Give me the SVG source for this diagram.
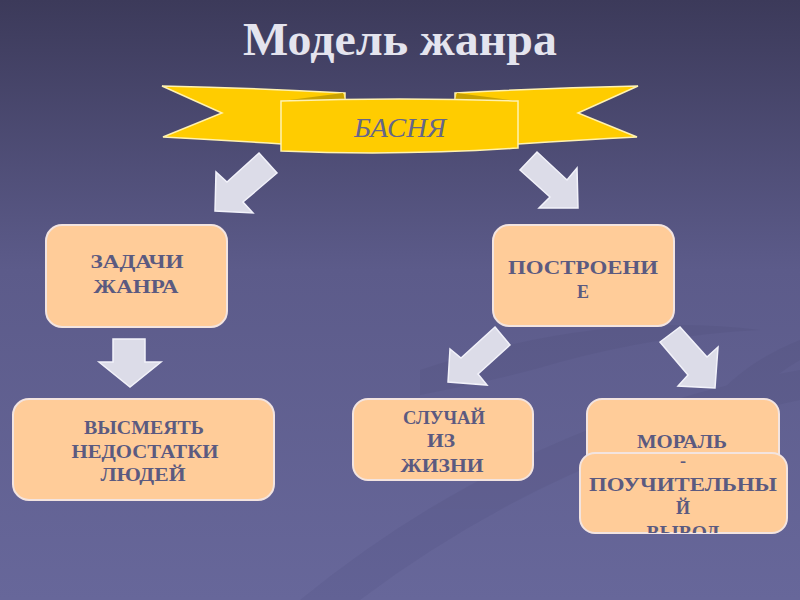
<svg xmlns="http://www.w3.org/2000/svg" width="800" height="600" viewBox="0 0 800 600">
<defs>
<linearGradient id="bg" x1="0" y1="0" x2="0" y2="1">
<stop offset="0" stop-color="#3c3a5a"/>
<stop offset="0.45" stop-color="#5c5b8a"/>
<stop offset="1" stop-color="#67679a"/>
</linearGradient>
<clipPath id="clipFront"><rect x="580" y="453" width="207" height="80" rx="15"/></clipPath>
<style>
.box{fill:#ffcc99;stroke:#f3e4e0;stroke-width:2}
.t{font-family:"Liberation Serif","DejaVu Serif",serif;font-weight:bold;font-size:18px;fill:#5b5a80;text-anchor:middle}
.arrow{fill:#dcdce8;stroke:#f2f2fa;stroke-width:1.5;stroke-linejoin:miter}
.rib{fill:#ffcc00;stroke:#fff2b0;stroke-width:1.5}
.fold{fill:#c9a200}
</style>
</defs>
<rect x="0" y="0" width="800" height="600" fill="url(#bg)"/>
<g id="swooshes" fill="#2e2c50" opacity="0.07">
<path d="M300,600 Q520,420 800,370 L800,400 Q560,450 360,600 Z"/>
<path d="M420,370 Q600,310 760,330 Q660,335 560,362 Q500,380 420,395 Z"/>
<path d="M680,470 Q700,380 800,340 L800,360 Q730,400 720,480 Z"/>
</g>
<text x="400" y="55" font-family="'Liberation Serif','DejaVu Serif',serif" font-weight="bold" font-size="46" fill="#e4e4ee" text-anchor="middle" textLength="314" lengthAdjust="spacingAndGlyphs">Модель жанра</text>

<g id="basnya">
<path class="rib" d="M162,86 Q255,88 345,93 L345,140 L282,144 Q220,140 163,137 L222,113 Z"/>
<path class="rib" d="M638,86 Q545,88 455,93 L455,140 L518,144 Q580,140 637,137 L578,113 Z"/>
<polygon class="fold" points="282,101 343,93 345,101"/>
<polygon class="fold" points="518,101 457,93 455,101"/>
<path class="rib" d="M281,101 Q400,97 518,101 L518,148 Q400,156 281,151 Z"/>
<text x="400" y="137" font-family="'Liberation Serif','DejaVu Serif',serif" font-style="italic" font-size="27" fill="#66668a" text-anchor="middle" textLength="92" lengthAdjust="spacingAndGlyphs">БАСНЯ</text>
</g>

<g id="connectors">
<polygon class="arrow" points="259,153 277,173 243,202 253,213 215,211 216,172 227,182"/>
<polygon class="arrow" points="537,152 567,180 577,168 578,208 539,208 550,197 520,170"/>
<polygon class="arrow" points="113,339 145,339 145,362 161,362 130,387 99,362 113,362"/>
<polygon class="arrow" points="495,327 510,345 478,374 487,385 448,382 450,349 461,358"/>
<polygon class="arrow" points="680,327 707,357 718,347 715,388 678,386 688,375 660,342"/>
</g>

<g id="zadachi">
<rect class="box" x="46" y="225" width="181" height="102" rx="16"/>
<text class="t" x="137" y="268" textLength="93" lengthAdjust="spacingAndGlyphs">ЗАДАЧИ</text>
<text class="t" x="136" y="293" textLength="85" lengthAdjust="spacingAndGlyphs">ЖАНРА</text>
</g>

<g id="postroenie">
<rect class="box" x="493" y="225" width="181" height="101" rx="16"/>
<text class="t" x="583" y="274" textLength="150" lengthAdjust="spacingAndGlyphs">ПОСТРОЕНИ</text>
<text class="t" x="583" y="298">Е</text>
</g>

<g id="vysmeyat">
<rect class="box" x="13" y="399" width="261" height="101" rx="16"/>
<text class="t" x="144" y="434" textLength="120" lengthAdjust="spacingAndGlyphs">ВЫСМЕЯТЬ</text>
<text class="t" x="145" y="458" textLength="147" lengthAdjust="spacingAndGlyphs">НЕДОСТАТКИ</text>
<text class="t" x="143" y="481" textLength="85" lengthAdjust="spacingAndGlyphs">ЛЮДЕЙ</text>
</g>

<g id="sluchai">
<rect class="box" x="353" y="399" width="180" height="81" rx="15"/>
<text class="t" x="444" y="424" textLength="82" lengthAdjust="spacingAndGlyphs">СЛУЧАЙ</text>
<text class="t" x="441" y="447" textLength="28" lengthAdjust="spacingAndGlyphs">ИЗ</text>
<text class="t" x="442" y="472" textLength="83" lengthAdjust="spacingAndGlyphs">ЖИЗНИ</text>
</g>

<g id="moral">
<rect class="box" x="587" y="399" width="192" height="75" rx="15"/>
<text class="t" x="682" y="448" textLength="90" lengthAdjust="spacingAndGlyphs">МОРАЛЬ</text>
<rect class="box" x="580" y="453" width="207" height="80" rx="15"/>
<text class="t" x="683" y="467">-</text>
<text class="t" x="683" y="491" textLength="188" lengthAdjust="spacingAndGlyphs">ПОУЧИТЕЛЬНЫ</text>
<text class="t" x="683" y="514">Й</text>
<g clip-path="url(#clipFront)">
<text class="t" x="683" y="539" textLength="73" lengthAdjust="spacingAndGlyphs">ВЫВОД</text>
</g>
</g>
</svg>
